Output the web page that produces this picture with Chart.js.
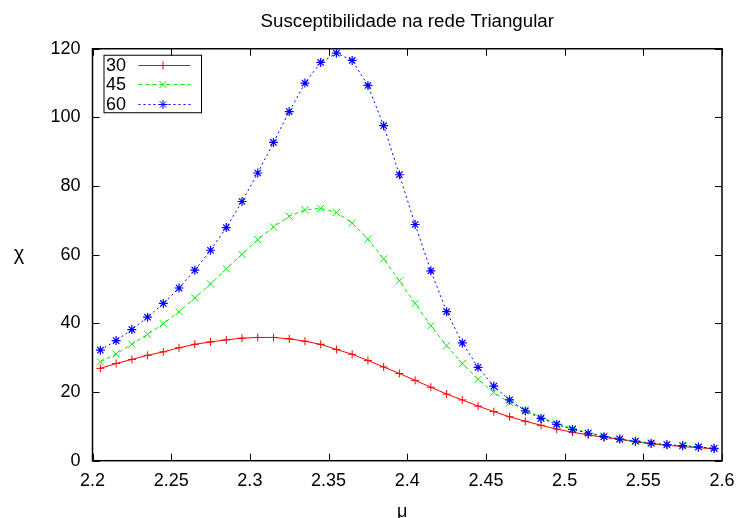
<!DOCTYPE html>
<html>
<head>
<meta charset="utf-8">
<script src="https://cdn.jsdelivr.net/npm/chart.js@4.4.1/dist/chart.umd.min.js"></script>
<style>
  html, body { margin: 0; padding: 0; background: #fff; }
  #wrap { width: 740px; height: 518px; }
</style>
</head>
<body>
<div id="wrap"><canvas id="grafico" width="740" height="518"></canvas></div>
<script>
// valores de mu (eixo x)
const mu = [2.205, 2.215, 2.225, 2.235, 2.245, 2.255, 2.265, 2.275, 2.285, 2.295,
            2.305, 2.315, 2.325, 2.335, 2.345, 2.355, 2.365, 2.375, 2.385, 2.395,
            2.405, 2.415, 2.425, 2.435, 2.445, 2.455, 2.465, 2.475, 2.485, 2.495,
            2.505, 2.515, 2.525, 2.535, 2.545, 2.555, 2.565, 2.575, 2.585, 2.595];

// susceptibilidade para cada tamanho
const chi30 = [26.9, 28.3, 29.5, 30.7, 31.7, 32.9, 33.9, 34.6, 35.2, 35.7,
               35.9, 35.9, 35.5, 34.8, 33.9, 32.4, 31.0, 29.2, 27.3, 25.4,
               23.4, 21.4, 19.4, 17.7, 15.9, 14.3, 12.8, 11.5, 10.3, 9.2,
               8.3, 7.5, 6.8, 6.2, 5.5, 4.9, 4.5, 4.1, 3.8, 3.4];
const chi45 = [28.8, 31.1, 33.9, 36.8, 39.9, 43.4, 47.4, 51.5, 55.9, 60.1,
               64.4, 68.1, 71.2, 73.1, 73.5, 72.3, 69.2, 64.5, 58.8, 52.4,
               45.8, 39.3, 33.5, 28.3, 23.7, 19.9, 16.9, 14.8, 12.6, 10.9,
               9.4, 8.1, 7.2, 6.4, 5.6, 5.1, 4.6, 4.3, 4.0, 3.6];
const chi60 = [32.2, 35.0, 38.2, 41.8, 45.8, 50.3, 55.5, 61.3, 67.9, 75.5,
               83.8, 92.7, 101.7, 110.0, 116.0, 118.7, 116.6, 109.3, 97.6, 83.3,
               68.8, 55.3, 43.4, 34.3, 27.2, 21.7, 17.7, 14.5, 12.3, 10.6,
               9.1, 8.0, 7.0, 6.3, 5.7, 5.1, 4.7, 4.4, 4.0, 3.6];

const tamanhos = ['30', '45', '60'];
const cores = ['#ff0000', '#00ee00', '#0000ff'];
const xTicks = [2.2, 2.25, 2.3, 2.35, 2.4, 2.45, 2.5, 2.55, 2.6];
const yTicks = [0, 20, 40, 60, 80, 100, 120];

const fonte = '"Liberation Sans", Arial, Helvetica, sans-serif';

function pontos(valores) {
    return mu.map((m, i) => ({ x: m, y: valores[i] }));
}

// moldura e marcas para dentro (estilo gnuplot)
const moldura = {
    id: 'moldura',
    beforeDatasetsDraw(chart) {
        const ctx = chart.ctx;
        const ca = chart.chartArea;
        const sx = chart.scales.x, sy = chart.scales.y;
        ctx.save();
        ctx.strokeStyle = '#000';
        ctx.lineWidth = 1;
        xTicks.forEach(v => {
            const px = Math.round(sx.getPixelForValue(v)) + 0.5;
            ctx.beginPath();
            ctx.moveTo(px, ca.bottom); ctx.lineTo(px, ca.bottom - 7);
            ctx.moveTo(px, ca.top); ctx.lineTo(px, ca.top + 7);
            ctx.stroke();
        });
        yTicks.forEach(v => {
            const py = Math.round(sy.getPixelForValue(v)) + 0.5;
            ctx.beginPath();
            ctx.moveTo(ca.left, py); ctx.lineTo(ca.left + 7, py);
            ctx.moveTo(ca.right, py); ctx.lineTo(ca.right - 7, py);
            ctx.stroke();
        });
        ctx.lineWidth = 1.5;
        ctx.strokeRect(ca.left, ca.top, ca.right - ca.left, ca.bottom - ca.top);
        ctx.restore();
    },
    afterDraw(chart) {
        const ctx = chart.ctx;
        const ca = chart.chartArea;
        ctx.save();
        ctx.fillStyle = '#000';
        ctx.font = '20px ' + fonte;
        ctx.textAlign = 'center';
        ctx.textBaseline = 'middle';
        ctx.fillText('\u03C7', 19, 254);
        ctx.font = '18px ' + fonte;
        ctx.textBaseline = 'alphabetic';
        ctx.fillText('\u03BC', (ca.left + ca.right) / 2 - 5, 517);

        // legenda dentro do grafico
        const bx = ca.left + 11, by = ca.top + 6, bw = 97.5, bh = 57.5;
        ctx.lineWidth = 1;
        ctx.strokeStyle = '#000';
        ctx.strokeRect(bx + 0.5, by + 0.5, bw, bh);
        chart.data.datasets.forEach((ds, i) => {
            const y = Math.round(by + 10.5 + i * 19.2) + 0.5;
            ctx.fillStyle = '#000';
            ctx.textAlign = 'left';
            ctx.textBaseline = 'middle';
            ctx.fillText(ds.label, bx + 2.5, y + 1);
            ctx.strokeStyle = cores[i];
            ctx.lineWidth = 1;
            ctx.setLineDash(ds.borderDash || []);
            ctx.beginPath();
            ctx.moveTo(bx + 35, y);
            ctx.lineTo(bx + 87, y);
            ctx.stroke();
            ctx.setLineDash([]);
            ctx.strokeStyle = cores[i];
            Chart.helpers.drawPoint(ctx, {
                pointStyle: ds.pointStyle,
                radius: ds.pointRadius,
                rotation: 0,
                borderWidth: 1
            }, bx + 59.5, y);
        });
        ctx.restore();
    }
};

const ctx = document.getElementById('grafico').getContext('2d');
new Chart(ctx, {
    type: 'line',
    data: {
        datasets: [{
            label: tamanhos[0],
            data: pontos(chi30),
            borderColor: cores[0],
            backgroundColor: cores[0],
            borderWidth: 1,
            pointStyle: 'cross',
            pointRadius: 4,
            pointBorderWidth: 1,
            order: 3
        }, {
            label: tamanhos[1],
            data: pontos(chi45),
            borderColor: cores[1],
            backgroundColor: cores[1],
            borderWidth: 1,
            borderDash: [4, 3],
            pointStyle: 'crossRot',
            pointRadius: 5,
            pointBorderWidth: 1,
            order: 2
        }, {
            label: tamanhos[2],
            data: pontos(chi60),
            borderColor: cores[2],
            backgroundColor: cores[2],
            borderWidth: 1,
            borderDash: [2, 3],
            pointStyle: 'star',
            pointRadius: 4.5,
            pointBorderWidth: 1.2,
            order: 1
        }]
    },
    options: {
        responsive: false,
        animation: false,
        events: [],
        layout: { autoPadding: false, padding: { left: 0, right: 18, top: 0, bottom: 0 } },
        elements: { line: { tension: 0 } },
        plugins: {
            legend: { display: false },
            tooltip: { enabled: false },
            title: {
                display: true,
                fullSize: false,
                text: 'Susceptibilidade na rede Triangular',
                color: '#000',
                font: { family: fonte, size: 18.7, weight: 'normal' },
                padding: { top: 11, bottom: 15.3 }
            }
        },
        scales: {
            x: {
                type: 'linear',
                min: 2.2,
                max: 2.6,
                grid: { display: false, drawTicks: false },
                border: { display: false },
                afterBuildTicks: s => { s.ticks = xTicks.map(v => ({ value: v })); },
                afterFit: s => { s.height = 57.3; s.paddingLeft = 0; s.paddingRight = 0; },
                ticks: {
                    color: '#000',
                    font: { family: fonte, size: 18 },
                    padding: 10,
                    maxRotation: 0,
                    autoSkip: false,
                    callback: v => String(v)
                }
            },
            y: {
                min: 0,
                max: 120,
                grid: { display: false, drawTicks: false },
                border: { display: false },
                afterBuildTicks: s => { s.ticks = yTicks.map(v => ({ value: v })); },
                afterFit: s => { s.width = 92.5; s.paddingTop = 0; s.paddingBottom = 0; },
                ticks: {
                    color: '#000',
                    font: { family: fonte, size: 18 },
                    padding: 12,
                    callback: v => String(v)
                }
            }
        }
    },
    plugins: [moldura]
});
</script>
</body>
</html>
